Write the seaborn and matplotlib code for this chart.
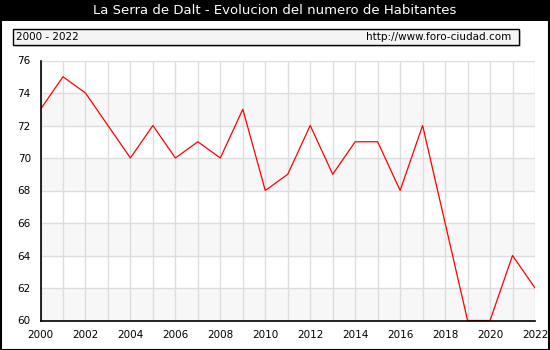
import matplotlib
matplotlib.use("Agg")
import matplotlib.pyplot as plt
import seaborn as sns
import pandas as pd
from matplotlib.patches import Rectangle

years = list(range(2000, 2023))
habitantes = [73, 75, 74, 72, 70, 72, 70, 71, 70, 73, 68, 69, 72, 69, 71, 71, 68, 72, 66, 60, 60, 64, 62]
title = "La Serra de Dalt - Evolucion del numero de Habitantes"
period = "2000 - 2022"
url = "http://www.foro-ciudad.com"

df = pd.DataFrame({"year": years, "hab": habitantes})

sns.set_style("white")
plt.rcParams['font.family'] = ['DejaVu Sans']
plt.rcParams['text.color'] = 'black'

fig = plt.figure(figsize=(5.5, 3.5), dpi=100)
W, H = 550, 350

# title bar
fig.patches.append(Rectangle((0, 1 - 21 / H), 1, 21 / H, transform=fig.transFigure,
                             facecolor="black", edgecolor="none", zorder=0))
fig.text(0.5, 1 - 10.5 / H, title, color="white", ha="center", va="center", fontsize=9.5)

# info box with shadow
bx0, bx1, by0, by1 = 13, 519, 29, 45
fig.patches.append(Rectangle(((bx0 + 2) / W, 1 - (by1 + 2) / H), (bx1 - bx0) / W, (by1 - by0) / H,
                             transform=fig.transFigure, facecolor="#d8d8d8", edgecolor="none", zorder=1))
fig.patches.append(Rectangle((bx0 / W, 1 - by1 / H), (bx1 - bx0) / W, (by1 - by0) / H,
                             transform=fig.transFigure, facecolor="#f4f4f4", edgecolor="black",
                             linewidth=1, zorder=2))
fig.text((bx0 + 3) / W, 1 - 37 / H, period, ha="left", va="center", fontsize=7.5, color="black", zorder=3)
fig.text((bx1 - 8) / W, 1 - 37 / H, url, ha="right", va="center", fontsize=7.5, color="black", zorder=3)

# outer border
fig.patches.append(Rectangle((0.5 / W, 0.5 / H), 1 - 1.5 / W, 1 - 1.5 / H, transform=fig.transFigure,
                             facecolor="none", edgecolor="black", linewidth=1.5, zorder=5))

ax = fig.add_axes([40.5 / W, 1 - 320.5 / H, (535 - 40.5) / W, (320.5 - 60.5) / H])
for y0 in range(60, 76, 4):
    ax.axhspan(y0, y0 + 2, color="#f7f7f7", zorder=0, linewidth=0)

sns.lineplot(data=df, x="year", y="hab", ax=ax, color="red", linewidth=0.9, zorder=2)

ax.set_xlim(2000, 2022)
ax.set_ylim(60, 76)
ax.set_xticks(range(2000, 2023, 2))
ax.set_xticks(range(2000, 2023), minor=True)
ax.set_yticks(range(60, 77, 2))
ax.set_yticks(range(61, 76, 2), minor=True)
ax.grid(True, which="both", axis="x", color="#dddddd", linewidth=1, zorder=1)
ax.grid(True, which="major", axis="y", color="#dddddd", linewidth=1, zorder=1)
ax.set_axisbelow(True)
ax.set_xlabel("")
ax.set_ylabel("")
for s in ["top", "right"]:
    ax.spines[s].set_visible(False)
for s in ["left", "bottom"]:
    ax.spines[s].set_color("black")
    ax.spines[s].set_linewidth(1.2)
    ax.spines[s].set_zorder(4)
ax.tick_params(axis="both", which="both", direction="out", color="black", labelcolor="black",
               labelsize=7.5, length=5, width=1)
ax.tick_params(axis="both", which="major", pad=2)

fig.savefig("out.png", dpi=100)
